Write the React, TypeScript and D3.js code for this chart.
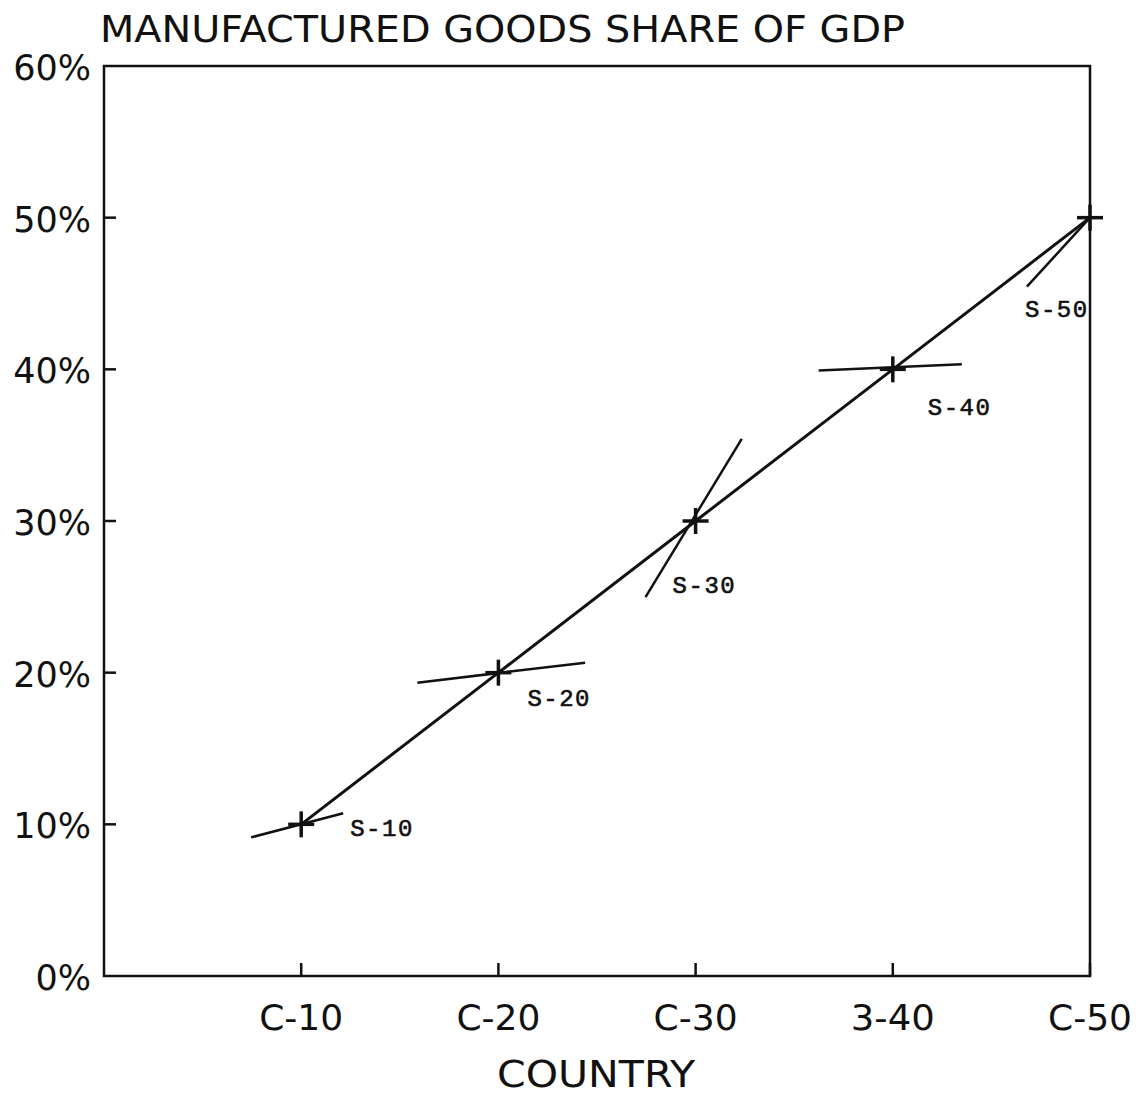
import React from "react";
import * as d3 from "d3";

// ---- data ----
const countries = ["C-10", "C-20", "C-30", "3-40", "C-50"];
const countryIndex = [1, 2, 3, 4, 5];
const shares = [10, 20, 30, 40, 50];
const yTicks = [0, 10, 20, 30, 40, 50, 60];
const segLabels = ["S-10", "S-20", "S-30", "S-40", "S-50"];
// slope segment end points in data units (x index, share %)
const segX0 = [0.746, 1.589, 2.746, 3.624, 4.68];
const segY0 = [9.14, 19.34, 24.98, 39.93, 45.45];
const segX1 = [1.213, 2.44, 3.234, 4.35, 5.0];
const segY1 = [10.73, 20.66, 35.41, 40.33, 50.0];
const title = "MANUFACTURED GOODS SHARE OF GDP";
const xTitle = "COUNTRY";

// ---- layout ----
const W = 1141;
const H = 1095;
const left = 104;
const right = 1090;
const top = 66;
const bottom = 976;
const labelOffsets: [number, number][] = [
  [49, 12],
  [29, 33],
  [-23, 72],
  [35, 46],
  [-65, 99],
];

const bigFont = "'DejaVu Sans', sans-serif";
const monoFont = "'Liberation Mono', 'DejaVu Sans Mono', monospace";

export default function App() {
  const x = d3.scaleLinear().domain([0, 5]).range([left, right]);
  const y = d3.scaleLinear().domain([0, 60]).range([bottom, top]);
  const line = d3
    .line<number>()
    .x((_, i) => x(countryIndex[i]))
    .y((d) => y(d));

  const ink = "#111";

  return (
    <svg
      width={W}
      height={H}
      viewBox={`0 0 ${W} ${H}`}
      style={{ position: "absolute", left: 0, top: 0, background: "#fff" }}
    >
      <rect x={0} y={0} width={W} height={H} fill="#fff" />
      {/* title */}
      <text
        x={100}
        y={42}
        fontFamily={bigFont}
        fontSize={37}
        textLength={805}
        lengthAdjust="spacingAndGlyphs"
        fill={ink}
      >
        {title}
      </text>

      {/* frame */}
      <rect
        x={left}
        y={top}
        width={right - left}
        height={bottom - top}
        fill="none"
        stroke={ink}
        strokeWidth={2.5}
      />

      {/* y ticks & labels */}
      {yTicks.map((t) => (
        <g key={"y" + t}>
          {t > 0 && t < 60 && (
            <line x1={left} x2={left + 12} y1={y(t)} y2={y(t)} stroke={ink} strokeWidth={2.5} />
          )}
          <text
            x={91}
            y={y(t) + 14}
            textAnchor="end"
            fontFamily={bigFont}
            fontSize={35}
            fill={ink}
          >
            {t + "%"}
          </text>
        </g>
      ))}

      {/* x ticks & labels */}
      {countries.map((c, i) => (
        <g key={"x" + c}>
          <line
            x1={x(countryIndex[i])}
            x2={x(countryIndex[i])}
            y1={bottom}
            y2={bottom - 13}
            stroke={ink}
            strokeWidth={2.5}
          />
          <text
            x={x(countryIndex[i])}
            y={1030}
            textAnchor="middle"
            fontFamily={bigFont}
            fontSize={36}
            textLength={84}
            lengthAdjust="spacingAndGlyphs"
            fill={ink}
          >
            {c}
          </text>
        </g>
      ))}
      <text
        x={596}
        y={1087}
        textAnchor="middle"
        fontFamily={bigFont}
        fontSize={37}
        textLength={198}
        lengthAdjust="spacingAndGlyphs"
        fill={ink}
      >
        {xTitle}
      </text>

      {/* main line */}
      <path d={line(shares) || ""} fill="none" stroke={ink} strokeWidth={3} />

      {/* slope segments */}
      {segLabels.map((s, i) => (
        <g key={s}>
          <line
            x1={x(segX0[i])}
            y1={y(segY0[i])}
            x2={x(segX1[i])}
            y2={y(segY1[i])}
            stroke={ink}
            strokeWidth={2.5}
          />
          <text
            x={x(countryIndex[i]) + labelOffsets[i][0]}
            y={y(shares[i]) + labelOffsets[i][1]}
            fontFamily={monoFont}
            fontSize={24}
            letterSpacing={1.5}
            stroke={ink}
            strokeWidth={0.6}
            fill={ink}
          >
            {s}
          </text>
        </g>
      ))}

      {/* cross markers */}
      {shares.map((v, i) => (
        <g key={"m" + i}>
          <line
            x1={x(countryIndex[i]) - 13}
            x2={x(countryIndex[i]) + 13}
            y1={y(v)}
            y2={y(v)}
            stroke={ink}
            strokeWidth={3.5}
          />
          <line
            x1={x(countryIndex[i])}
            x2={x(countryIndex[i])}
            y1={y(v) - 13}
            y2={y(v) + 13}
            stroke={ink}
            strokeWidth={3.5}
          />
        </g>
      ))}
    </svg>
  );
}
